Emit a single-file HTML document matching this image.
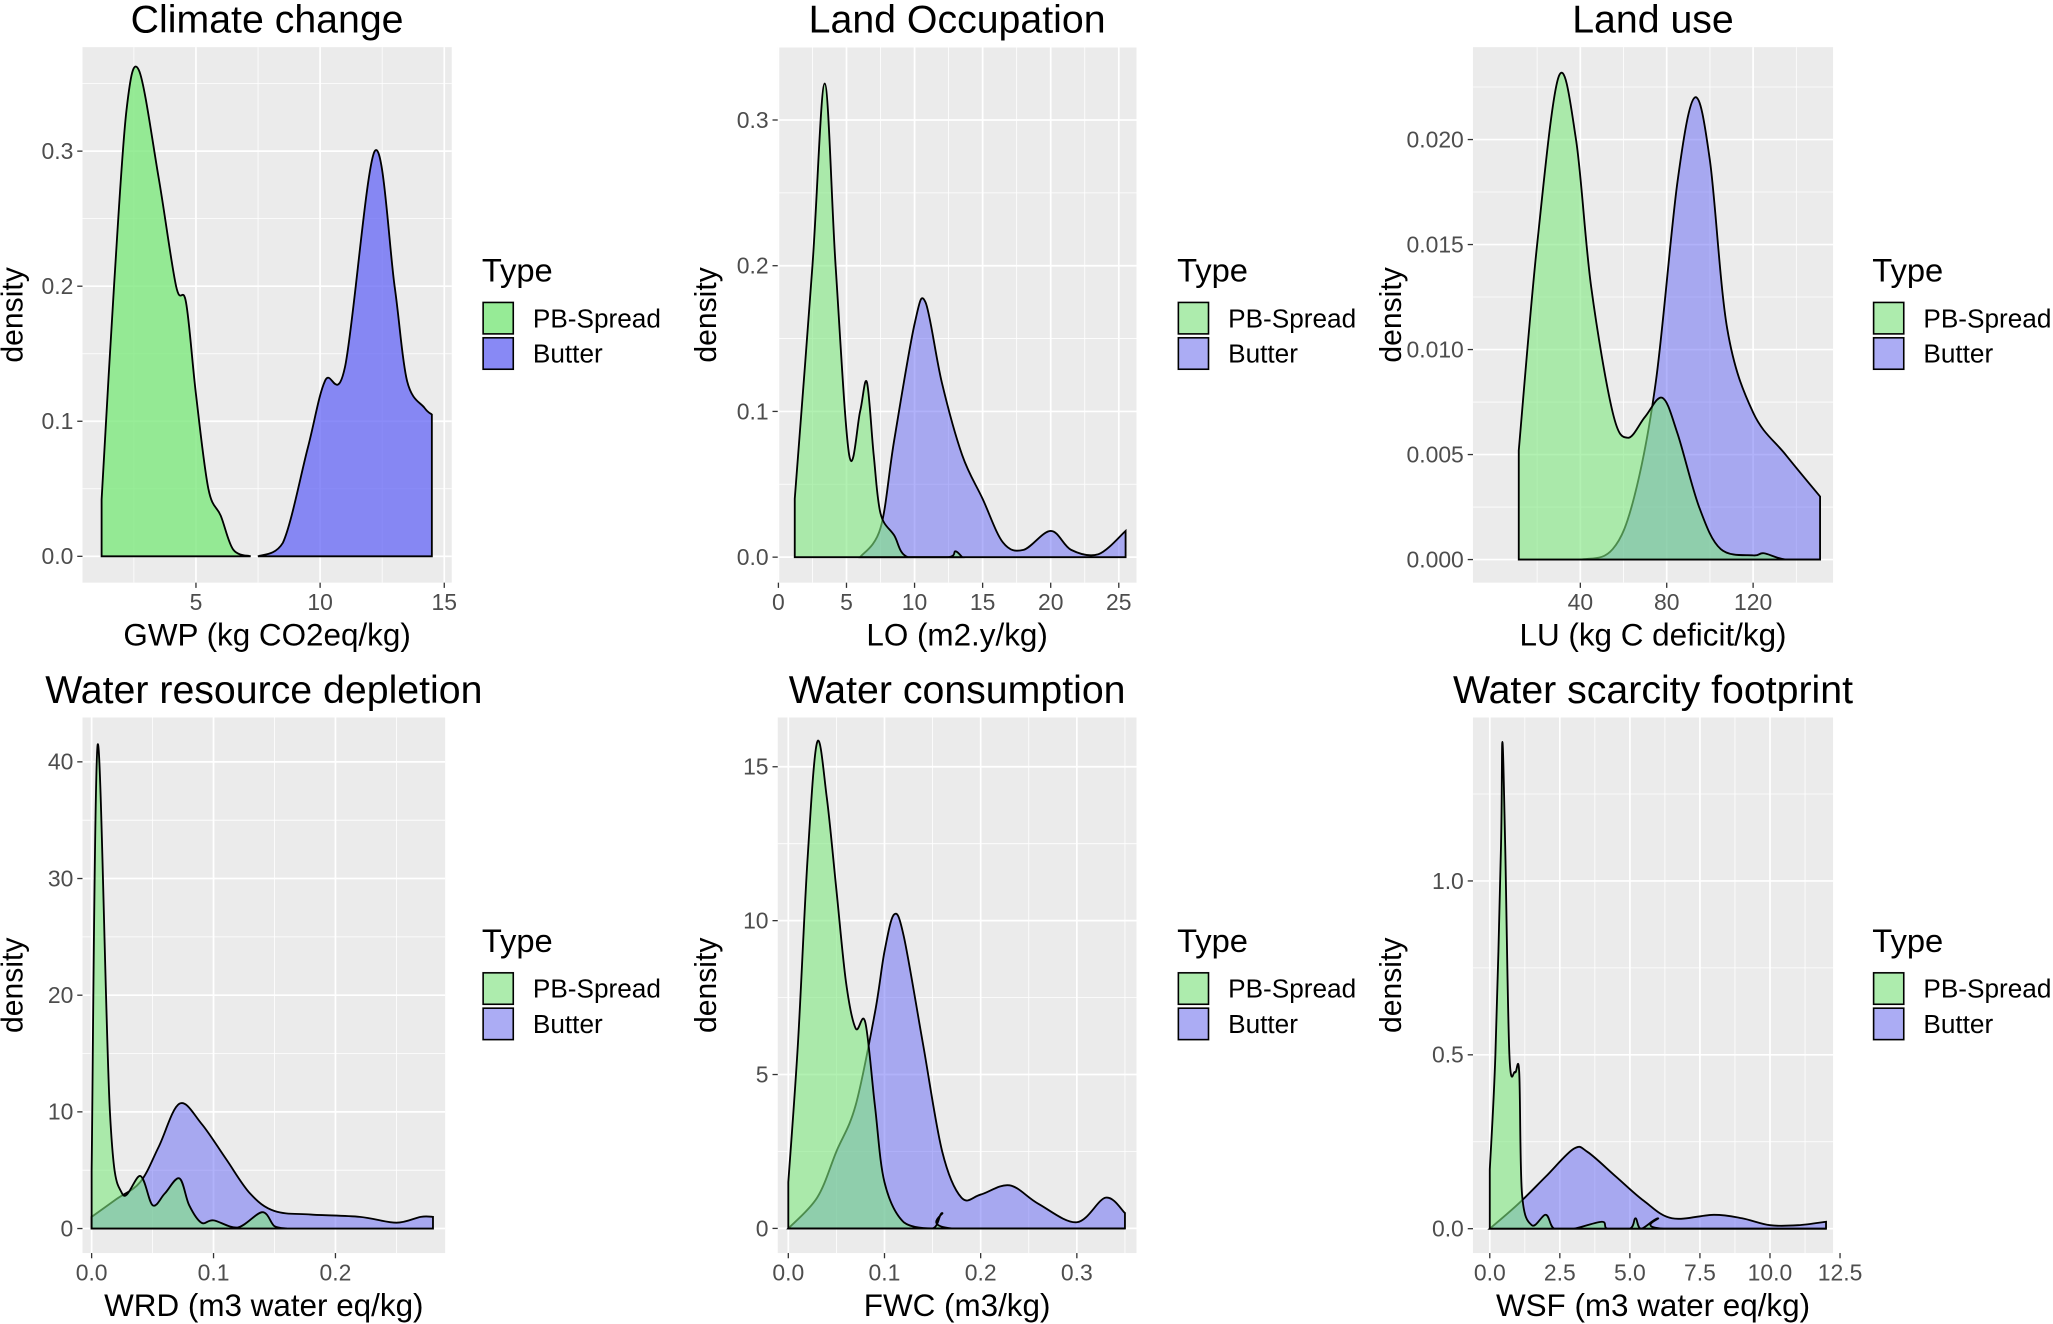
<!DOCTYPE html>
<html><head><meta charset="utf-8"><style>
html,body{margin:0;padding:0;background:#fff}
svg{display:block}
text{font-family:"Liberation Sans",sans-serif}
</style></head><body>
<svg id="chart" width="2053" height="1324" viewBox="0 0 1568 1011.2" preserveAspectRatio="none" xmlns="http://www.w3.org/2000/svg"></svg>
<script>
// ---- data ----
const titles = ["Climate change","Land Occupation","Land use","Water resource depletion","Water consumption","Water scarcity footprint"];
const xTitles = ["GWP (kg CO2eq/kg)","LO (m2.y/kg)","LU (kg C deficit/kg)","WRD (m3 water eq/kg)","FWC (m3/kg)","WSF (m3 water eq/kg)"];
const xTicks = [[5,10,15],[0,5,10,15,20,25],[40,80,120],[0,0.1,0.2],[0,0.1,0.2,0.3],[0,2.5,5,7.5,10,12.5]];
const xTickLabels = [["5","10","15"],["0","5","10","15","20","25"],["40","80","120"],["0.0","0.1","0.2"],["0.0","0.1","0.2","0.3"],["0.0","2.5","5.0","7.5","10.0","12.5"]];
const yTicks = [[0,0.1,0.2,0.3],[0,0.1,0.2,0.3],[0,0.005,0.01,0.015,0.02],[0,10,20,30,40],[0,5,10,15],[0,0.5,1.0]];
const yTickLabels = [["0.0","0.1","0.2","0.3"],["0.0","0.1","0.2","0.3"],["0.000","0.005","0.010","0.015","0.020"],["0","10","20","30","40"],["0","5","10","15"],["0.0","0.5","1.0"]];
const xDomains = [[0.43,15.3],[-0.05,26.3],[-9.7,157],[-0.0075,0.29],[-0.011,0.362],[-0.6,12.25]];
const yDomains = [[-0.0195,0.377],[-0.0175,0.35],[-0.0011,0.0244],[-2.1,43.8],[-0.8,16.6],[-0.07,1.47]];
const pbX = [
 [1.2,1.7,2.2,2.7,3.5,4.2,4.6,5.0,5.5,6.0,6.5,7.2],
 [1.2,2.5,3.4,4.2,5.2,6.0,6.5,7.0,7.5,8.5,9.5,12.5,13.0,13.5],
 [11.5,20,30,38,45,55,62,70,78,85,95,105,120,125,135,151],
 [0,0.005,0.015,0.025,0.04,0.05,0.06,0.072,0.08,0.09,0.1,0.12,0.14,0.15,0.16],
 [0,0.01,0.02,0.03,0.04,0.05,0.06,0.07,0.08,0.09,0.1,0.12,0.15,0.16,0.17,0.35],
 [0,0.2,0.4,0.45,0.55,0.7,0.9,1.05,1.15,1.5,2,2.3,3,4,4.2,5,5.2,5.4,6,6.2,12]
];
const pbY = [
 [0.042,0.2,0.33,0.36,0.28,0.2,0.188,0.12,0.05,0.03,0.005,0],
 [0.04,0.2,0.325,0.2,0.07,0.1,0.12,0.07,0.03,0.015,0,0,0.004,0],
 [0.0052,0.015,0.023,0.02,0.013,0.007,0.0058,0.0068,0.0077,0.006,0.0025,0.0005,0.0002,0.0003,0,0],
 [5,41.5,10,3,4.5,2,3,4.3,2,0.5,0.7,0.1,1.4,0.2,0],
 [1.5,6,12,15.8,14,11,8,6.5,6.7,4,1.5,0.2,0,0.5,0,0],
 [0.17,0.5,1.1,1.4,1.1,0.5,0.45,0.45,0.1,0.01,0.04,0,0,0.02,0,0,0.03,0,0.03,0,0]
];
const buX = [
 [7.5,8.5,9.5,10.2,11,12.2,13,13.5,14.2,14.5],
 [6,7.5,8.5,10,10.8,12,13.5,15,16.5,18,20,21.5,23.5,25.5],
 [12,40,55,65,75,85,93,100,108,120,135,151],
 [0,0.02,0.04,0.055,0.072,0.09,0.11,0.13,0.15,0.18,0.22,0.25,0.27,0.28],
 [0,0.03,0.05,0.07,0.09,0.1,0.11,0.12,0.14,0.16,0.18,0.2,0.23,0.26,0.3,0.33,0.35],
 [0,1,2,3,3.5,4.5,5.5,6.5,8,9,10,11,12]
];
const buY = [
 [0,0.01,0.08,0.13,0.14,0.3,0.2,0.13,0.11,0.105],
 [0,0.02,0.08,0.16,0.175,0.12,0.07,0.04,0.01,0.005,0.018,0.005,0.002,0.018],
 [0,0,0.0005,0.003,0.0085,0.018,0.022,0.019,0.011,0.007,0.005,0.003],
 [1,2.5,4,7,10.7,9,6,3,1.5,1.2,1.0,0.5,1.0,1.0],
 [0,1,2.5,4,7,9,10.2,9.5,6,2.5,1,1.1,1.4,0.8,0.2,1,0.5],
 [0,0.07,0.15,0.23,0.22,0.15,0.08,0.03,0.04,0.03,0.01,0.01,0.02]
];
// ---- layout ----
const NS="http://www.w3.org/2000/svg";
const svg=document.getElementById('chart');
const panels=[[63,36,345,445],[594,36,868,445],[1125,36,1400,445],[63,548,340,957],[594,548,868,957],[1125,548,1400,957]];
function mk(tag,attrs,parent){const e=document.createElementNS(NS,tag);for(const k in attrs)e.setAttribute(k,attrs[k]);(parent||svg).appendChild(e);return e;}
function smooth(pts,y0){let d="M"+pts[0][0]+","+pts[0][1];for(let i=0;i<pts.length-1;i++){const p0=pts[i-1]||pts[i],p1=pts[i],p2=pts[i+1],p3=pts[i+2]||p2;const c1x=p1[0]+(p2[0]-p0[0])/6,c1y=Math.min(y0,p1[1]+(p2[1]-p0[1])/6),c2x=p2[0]-(p3[0]-p1[0])/6,c2y=Math.min(y0,p2[1]-(p3[1]-p1[1])/6);d+=" C"+c1x+","+c1y+" "+c2x+","+c2y+" "+p2[0]+","+p2[1];}return d;}
panels.forEach((p,i)=>{
 const [L,T,R,B]=p;
 const g=mk('g',{});
 
 
 const xs=v=>L+(v-xDomains[i][0])/(xDomains[i][1]-xDomains[i][0])*(R-L);
 const ys=v=>B-(v-yDomains[i][0])/(yDomains[i][1]-yDomains[i][0])*(B-T);
 const bg=mk('rect',{x:L,y:T,width:R-L,height:B-T,fill:'#ebebeb'},g);
 
 
 const xt=xTicks[i],yt=yTicks[i];
 const xstep=xt[1]-xt[0],ystep=yt[1]-yt[0];
 for(let v=xt[0]-xstep/2;v<=xDomains[i][1];v+=xstep){if(v>=xDomains[i][0])mk('line',{x1:xs(v),x2:xs(v),y1:T,y2:B,stroke:'#fff','stroke-width':0.6},g);}
 for(let v=yt[0]-ystep/2;v<=yDomains[i][1];v+=ystep){if(v>=yDomains[i][0])mk('line',{x1:L,x2:R,y1:ys(v),y2:ys(v),stroke:'#fff','stroke-width':0.6},g);}
 xt.forEach((v,k)=>{mk('line',{x1:xs(v),x2:xs(v),y1:T,y2:B,stroke:'#fff','stroke-width':1.3},g);mk('line',{x1:xs(v),x2:xs(v),y1:B,y2:B+4,stroke:'#333','stroke-width':1},g);
  const t=mk('text',{x:xs(v),y:B+21,'text-anchor':'middle','font-size':17.5,fill:'#4d4d4d'},g);t.textContent=xTickLabels[i][k];
  
  });
 yt.forEach((v,k)=>{mk('line',{x1:L,x2:R,y1:ys(v),y2:ys(v),stroke:'#fff','stroke-width':1.3},g);mk('line',{x1:L-4,x2:L,y1:ys(v),y2:ys(v),stroke:'#333','stroke-width':1},g);
  const t=mk('text',{x:L-7,y:ys(v)+6,'text-anchor':'end','font-size':17.5,fill:'#4d4d4d'},g);t.textContent=yTickLabels[i][k];
  
  });
 const series=[[buX[i],buY[i],'#6466f6',i===0?0.75:0.5,'butter-density'],[pbX[i],pbY[i],'#7ee87e',i===0?0.8:0.6,'pb-spread-density']];
 const y0=ys(0);
 series.forEach(s=>{
  const pts=s[0].map((x,k)=>[xs(x),ys(s[1][k])]);
  const d=smooth(pts,y0)+" L"+pts[pts.length-1][0]+","+y0+" L"+pts[0][0]+","+y0+" Z";
  const path=mk('path',{d:d,fill:s[2],'fill-opacity':s[3],stroke:'#000','stroke-width':1.4},g);
  
  
 });
 const tt=mk('text',{x:(L+R)/2,y:T-11,'text-anchor':'middle','font-size':30,fill:'#000'},g);tt.textContent=titles[i];
 
 
 const xa=mk('text',{x:(L+R)/2,y:B+48,'text-anchor':'middle','font-size':24,fill:'#000'},g);xa.textContent=xTitles[i];
 
 
 const yx=L-(i%3===0?46:(i%3===1?47:55));
 const ya=mk('text',{x:yx,y:(T+B)/2,'text-anchor':'middle','font-size':23,fill:'#000',transform:'rotate(-90 '+yx+' '+(T+B)/2+')'},g);ya.textContent='density';
 
 
 // legend
 const lx=[368,899,1430][i%3],ly=T+179;
 const lg=mk('g',{},g);
 
 
 const lt=mk('text',{x:lx,y:ly,'font-size':25,fill:'#000'},lg);lt.textContent='Type';
 [['PB-Spread','#7ee87e',i===0?0.8:0.6],['Butter','#6466f6',i===0?0.75:0.5]].forEach((e,k)=>{
  const ky=ly+15+k*27;
  mk('rect',{x:lx,y:ky,width:25,height:26,fill:'#f2f2f2'},lg);
  mk('rect',{x:lx+1,y:ky+1,width:23,height:24,fill:e[1],'fill-opacity':e[2],stroke:'#000','stroke-width':1.2},lg);
  const et=mk('text',{x:lx+39,y:ky+20,'font-size':20,fill:'#000'},lg);et.textContent=e[0];
  
  
 });
});
</script>
</body></html>
